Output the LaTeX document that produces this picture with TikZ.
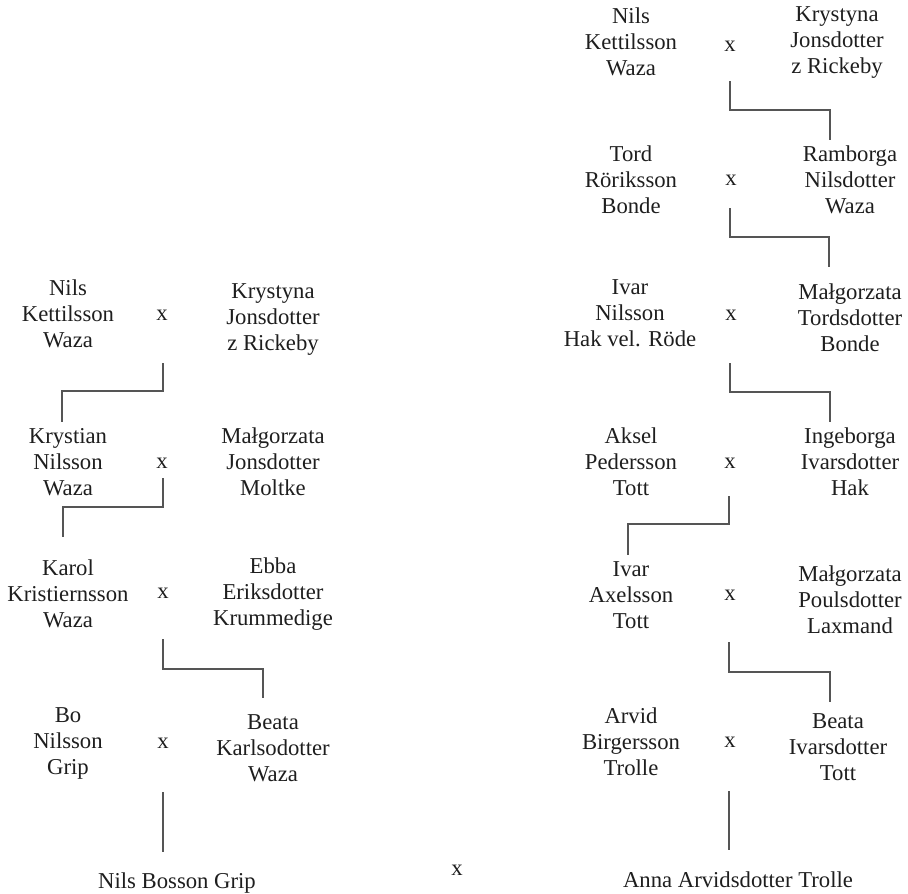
\documentclass[tikz,border=0pt]{standalone}
\usepackage{fontspec}
\setmainfont{Liberation Serif}
\usetikzlibrary{calc}
\definecolor{ink}{HTML}{1E1E1E}
\definecolor{linec}{HTML}{555555}
\tikzset{
  person/.style={align=center,inner sep=0pt,text=ink,font=\fontsize{22.7}{26}\selectfont},
  marr/.style={inner sep=0pt,text=ink,font=\fontsize{22.7}{26}\selectfont},
  conn/.style={draw=linec,line width=1.1pt}
}
\begin{document}
\begin{tikzpicture}[x=1pt,y=1pt]
\useasboundingbox (0,0) rectangle (908,-894);
% left tree
\node[person] (L1a) at (68,-314) {Nils\\Kettilsson\\Waza};
\node[marr] (L1x) at (162,-315) {x};
\node[person] (L1b) at (273,-320) {Krystyna\\Jonsdotter\\z Rickeby};
\node[person] (L2a) at (68,-462) {Krystian\\Nilsson\\Waza};
\node[marr] (L2x) at (162,-463) {x};
\node[person] (L2b) at (273,-462) {Małgorzata\\Jonsdotter\\Moltke};
\node[person] (L3a) at (68,-594) {Karol\\Kristiernsson\\Waza};
\node[marr] (L3x) at (163,-593) {x};
\node[person] (L3b) at (273,-594) {Ebba\\Eriksdotter\\Krummedige};
\node[person] (L4a) at (68,-743) {Bo\\Nilsson\\Grip};
\node[marr] (L4x) at (163,-743) {x};
\node[person] (L4b) at (273,-748) {Beata\\Karlsodotter\\Waza};
\node[person] (L5) at (177,-883) {Nils Bosson Grip};
% right tree
\node[person] (R1a) at (631,-42) {Nils\\Kettilsson\\Waza};
\node[marr] (R1x) at (730,-46) {x};
\node[person] (R1b) at (837,-43) {Krystyna\\Jonsdotter\\z Rickeby};
\node[person] (R2a) at (631,-180) {Tord\\Röriksson\\Bonde};
\node[marr] (R2x) at (731,-180) {x};
\node[person] (R2b) at (850,-180) {Ramborga\\Nilsdotter\\Waza};
\node[person] (R3a) at (630,-313) {Ivar\\Nilsson\\Hak vel. Röde};
\node[marr] (R3x) at (731,-315) {x};
\node[person] (R3b) at (850,-318) {Małgorzata\\Tordsdotter\\Bonde};
\node[person] (R4a) at (631,-462) {Aksel\\Pedersson\\Tott};
\node[marr] (R4x) at (730,-463) {x};
\node[person] (R4b) at (850,-462) {Ingeborga\\Ivarsdotter\\Hak};
\node[person] (R5a) at (631,-595) {Ivar\\Axelsson\\Tott};
\node[marr] (R5x) at (730,-595) {x};
\node[person] (R5b) at (850,-600) {Małgorzata\\Poulsdotter\\Laxmand};
\node[person] (R6a) at (631,-742) {Arvid\\Birgersson\\Trolle};
\node[marr] (R6x) at (730,-742) {x};
\node[person] (R6b) at (838,-747) {Beata\\Ivarsdotter\\Tott};
\node[person] (R7) at (738,-880) {Anna Arvidsdotter Trolle};
\node[marr] (MX) at (457,-870) {x};
% left connectors
\draw[conn] ($(L1x)+(1,-48)$) -- ++(0,-28) -| ($(L2a)+(-6,40)$);
\draw[conn] ($(L2x)+(1,-15)$) -- ++(0,-29) -| ($(L3a)+(-5,57)$);
\draw[conn] ($(L3x)+(0,-46)$) -- ++(0,-30) -| ($(L4b)+(-10,50)$);
\draw[conn] ($(L4x)+(0,-49)$) -- ($(L5)+(-14,31)$);
% right connectors
\draw[conn] ($(R1x)+(0,-35)$) -- ++(0,-29) -| ($(R2b)+(-20,40)$);
\draw[conn] ($(R2x)+(-1,-28)$) -- ++(0,-29) -| ($(R3b)+(-21,51)$);
\draw[conn] ($(R3x)+(-1,-48)$) -- ++(0,-29) -| ($(R4b)+(-20,40)$);
\draw[conn] ($(R4x)+(-1,-33)$) -- ++(0,-28) -| ($(R5a)+(-3,40)$);
\draw[conn] ($(R5x)+(-1,-47)$) -- ++(0,-30) -| ($(R6b)+(-8,45)$);
\draw[conn] ($(R6x)+(-1,-49)$) -- ($(R7)+(-9,30)$);
\end{tikzpicture}
\end{document}
